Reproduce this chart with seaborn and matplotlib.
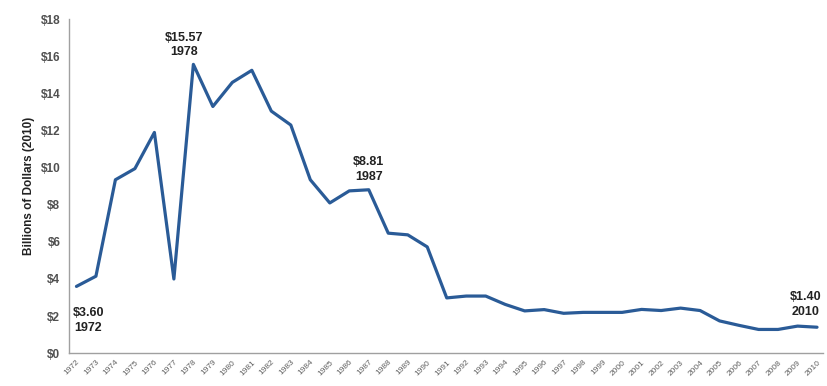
import matplotlib
matplotlib.use("Agg")
import matplotlib.pyplot as plt
import seaborn as sns
import pandas as pd

years = list(range(1972, 2011))
values = [3.60, 4.15, 9.35, 9.95, 11.9, 4.0, 15.57, 13.3, 14.6, 15.25,
          13.05, 12.3, 9.35, 8.1, 8.75, 8.81, 6.47, 6.38, 5.73, 2.98,
          3.08, 3.08, 2.63, 2.28, 2.35, 2.15, 2.2, 2.2, 2.2, 2.36,
          2.3, 2.43, 2.3, 1.74, 1.5, 1.28, 1.28, 1.46, 1.40]
y_ticks = list(range(0, 19, 2))
callouts = [(1972, 3.60), (1978, 15.57), (1987, 8.81), (2010, 1.40)]

df = pd.DataFrame({"year": years, "value": values})

sns.set_style("white")
plt.rcParams["font.family"] = ["Liberation Sans", "DejaVu Sans"]

fig = plt.figure(figsize=(8.27, 3.86), dpi=100)
ax = fig.add_axes([0.083, 0.085, 0.912, 0.865])
sns.lineplot(data=df, x="year", y="value", ax=ax, color="#2a5b97", linewidth=2.3)

ax.set_xlim(1971.6, 2010.3)
ax.set_ylim(0, 18)
ax.set_yticks(y_ticks)
ax.set_yticklabels([f"${t}" for t in y_ticks], fontsize=8.5, color="#505050", fontweight="bold")
ax.set_xticks(years)
ax.set_xticklabels([str(y) for y in years], rotation=45, ha="right",
                   rotation_mode="anchor", fontsize=6, color="#606060")
ax.set_xlabel("")
ax.set_ylabel("Billions of Dollars (2010)", fontsize=8.5, fontweight="bold", color="#222222")

for s in ["top", "right"]:
    ax.spines[s].set_visible(False)
for s in ["left", "bottom"]:
    ax.spines[s].set_color("#a0a0a0")
    ax.spines[s].set_linewidth(1)
ax.tick_params(axis="x", length=3, color="#a0a0a0", pad=1)
ax.tick_params(axis="y", length=0, pad=6)

# (x offset in years, text y in data units, vertical alignment)
placement = {1972: (0.6, 2.5, "top"),
             1978: (-0.5, 15.9, "bottom"),
             1987: (0.0, 9.2, "bottom"),
             2010: (-0.6, 1.9, "bottom")}
for yr, v in callouts:
    dx, ty, va = placement[yr]
    ax.text(yr + dx, ty, f"${v:.2f}\n{yr}", ha="center", va=va, fontsize=9,
            fontweight="bold", color="#222222", linespacing=1.3)

fig.savefig("out.png", dpi=100)
